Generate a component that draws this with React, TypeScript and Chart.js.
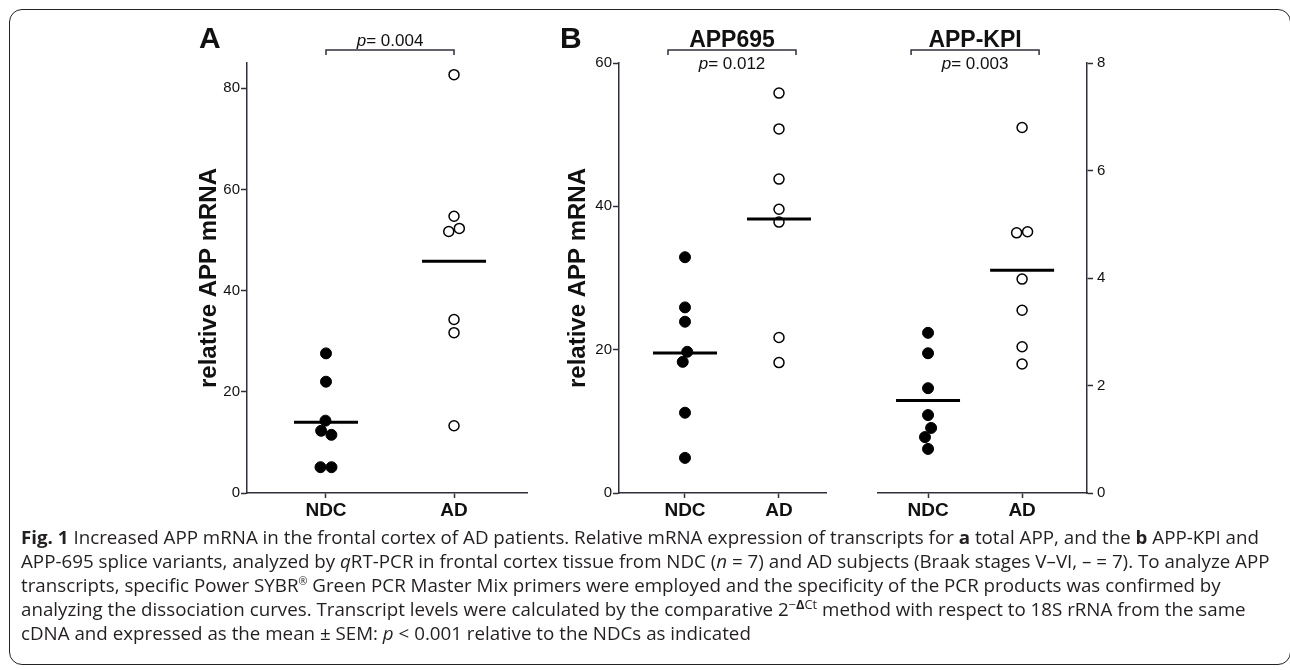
import React, { useEffect, useLayoutEffect, useRef } from 'react';
import { Chart, registerables } from 'chart.js';

Chart.register(...registerables);

// ---------- data ----------
const categories = ['NDC', 'AD'];

const totalNDC = [27.6, 22.0, 14.3, 12.3, 11.5, 5.1, 5.1];
const totalAD = [82.7, 54.7, 52.3, 51.7, 34.3, 31.7, 13.3];

const app695NDC = [32.9, 25.9, 23.9, 19.7, 18.3, 11.2, 4.9];
const app695AD = [55.8, 50.8, 43.8, 39.6, 37.8, 21.7, 18.2];

const kpiNDC = [2.98, 2.6, 1.95, 1.45, 1.21, 1.04, 0.82];
const kpiAD = [6.8, 4.86, 4.84, 3.98, 3.4, 2.72, 2.4];

const totalTicks = [0, 20, 40, 60, 80];
const app695Ticks = [0, 20, 40, 60];
const kpiTicks = [0, 2, 4, 6, 8];

const pTotal = '0.004';
const p695 = '0.012';
const pKpi = '0.003';

const yTitle = 'relative APP mRNA';

// ---------- styles ----------
const FONT = 'Arial, "Liberation Sans", Helvetica, sans-serif';
const AXIS = '#2f2f3c';
const INK = '#111111';

const mean = (a: number[]) => a.reduce((s, v) => s + v, 0) / a.length;

// beeswarm-style offsets (pixels) so that overlapping markers sit side by side
function swarm(pys: number[], d: number): number[] {
  const order = pys.map((_, i) => i).sort((a, b) => pys[a] - pys[b]);
  const xs = new Array(pys.length).fill(0);
  const placed: number[] = [];
  for (const i of order) {
    const iv: [number, number][] = [];
    for (const j of placed) {
      const dy = Math.abs(pys[i] - pys[j]);
      if (dy < d) {
        const hw = Math.sqrt(d * d - dy * dy);
        iv.push([xs[j] - hw, xs[j] + hw]);
      }
    }
    const cands = [0];
    iv.forEach(([a, b]) => cands.push(a, b));
    cands.sort((a, b) => Math.abs(a) - Math.abs(b) || a - b);
    const ok = cands.find((c) => iv.every(([a, b]) => c <= a + 1e-6 || c >= b - 1e-6));
    xs[i] = ok ?? 0;
    placed.push(i);
  }
  // centre each cluster of touching markers
  let start = 0;
  for (let k = 1; k <= order.length; k++) {
    if (k === order.length || pys[order[k]] - pys[order[k - 1]] >= d) {
      const idx = order.slice(start, k);
      if (idx.length > 1) {
        const m = idx.reduce((s, i) => s + xs[i], 0) / idx.length;
        idx.forEach((i) => (xs[i] -= m));
      }
      start = k;
    }
  }
  return xs;
}

type Panel = {
  ndc: number[];
  ad: number[];
  yMax: number;
  yTicks: number[];
  xMin: number;
  xMax: number;
  side: 'left' | 'right';
  showTitle: boolean;
  titlePad: number;
  yWidth: number;
  padLeft: number;
  padRight: number;
  left: number;
  width: number;
  letter?: string;
  letterDx?: number;
  heading?: string;
  pText: string;
  pAbove: boolean;
};

const panels: Panel[] = [
  {
    ndc: totalNDC, ad: totalAD, yMax: 85, yTicks: totalTicks,
    xMin: 0.383, xMax: 2.57, side: 'left', showTitle: true, titlePad: 44.6,
    yWidth: 97, padLeft: 0, padRight: 13, left: 150, width: 390,
    letter: 'A', letterDx: -48, pText: pTotal, pAbove: true,
  },
  {
    ndc: app695NDC, ad: app695AD, yMax: 60, yTicks: app695Ticks,
    xMin: 0.298, xMax: 2.5, side: 'left', showTitle: true, titlePad: 23.6,
    yWidth: 79, padLeft: 0, padRight: 14, left: 540, width: 300,
    letter: 'B', letterDx: -59, heading: 'APP695', pText: p695, pAbove: false,
  },
  {
    ndc: kpiNDC, ad: kpiAD, yMax: 8, yTicks: kpiTicks,
    xMin: 0.468, xMax: 2.69, side: 'right', showTitle: false, titlePad: 0,
    yWidth: 53, padLeft: 18, padRight: 0, left: 860, width: 280,
    heading: 'APP-KPI', pText: pKpi, pAbove: false,
  },
];

const CANVAS_H = 530;

function annotations(p: Panel) {
  return {
    id: 'annot',
    afterDraw(chart: any) {
      const { ctx, chartArea, scales } = chart;
      const x = scales.x;
      const x1 = x.getPixelForValue(1);
      const x2 = x.getPixelForValue(2);
      const mid = (x1 + x2) / 2;
      const by = chartArea.top - 13;
      ctx.save();
      ctx.strokeStyle = AXIS;
      ctx.lineWidth = 1.5;
      ctx.beginPath();
      ctx.moveTo(mid - 64, by + 5);
      ctx.lineTo(mid - 64, by);
      ctx.lineTo(mid + 64, by);
      ctx.lineTo(mid + 64, by + 5);
      ctx.stroke();

      ctx.fillStyle = INK;
      ctx.textBaseline = 'alphabetic';
      // p-value
      const pFont = `italic 17px ${FONT}`;
      const rFont = `17px ${FONT}`;
      ctx.font = pFont;
      const wP = ctx.measureText('p').width;
      ctx.font = rFont;
      const rest = '= ' + p.pText;
      const wR = ctx.measureText(rest).width;
      const startX = mid - (wP + wR) / 2;
      const py = p.pAbove ? by - 4 : by + 19;
      ctx.font = pFont;
      ctx.textAlign = 'left';
      ctx.fillText('p', startX, py);
      ctx.font = rFont;
      ctx.fillText(rest, startX + wP, py);

      if (p.heading) {
        ctx.font = `bold 23px ${FONT}`;
        ctx.textAlign = 'center';
        ctx.fillText(p.heading, mid, by - 3);
      }
      if (p.letter) {
        ctx.font = `bold 30px ${FONT}`;
        ctx.textAlign = 'left';
        ctx.fillText(p.letter, chartArea.left + (p.letterDx || 0), by - 2);
      }
      ctx.restore();
    },
  };
}

function PanelChart({ p }: { p: Panel }) {
  const ref = useRef<HTMLCanvasElement | null>(null);
  useEffect(() => {
    if (!ref.current) return;
    const tickFont = { family: FONT, size: 15 };
    const chart = new Chart(ref.current, {
      type: 'scatter',
      data: {
        datasets: [
          {
            label: 'mean',
            data: [
              { x: 1, y: mean(p.ndc) },
              { x: 2, y: mean(p.ad) },
            ],
            pointStyle: 'line',
            pointRadius: 32,
            pointHoverRadius: 32,
            pointBorderWidth: 3,
            borderColor: '#000',
            backgroundColor: '#000',
            clip: false as any,
          },
          {
            label: categories[0],
            data: p.ndc.map((v) => ({ x: 1, y: v })),
            pointRadius: 5.5,
            pointHoverRadius: 5.5,
            pointBorderWidth: 1,
            backgroundColor: '#000',
            borderColor: '#000',
            clip: false as any,
          },
          {
            label: categories[1],
            data: p.ad.map((v) => ({ x: 2, y: v })),
            pointRadius: 5,
            pointHoverRadius: 5,
            pointBorderWidth: 1.5,
            backgroundColor: '#fff',
            borderColor: '#000',
            clip: false as any,
          },
        ],
      },
      options: {
        animation: false,
        responsive: false,
        maintainAspectRatio: false,
        events: [],
        layout: {
          autoPadding: false,
          padding: { top: 63, bottom: 0, left: p.padLeft, right: p.padRight },
        },
        plugins: { legend: { display: false }, tooltip: { enabled: false } },
        scales: {
          x: {
            type: 'linear',
            position: 'bottom',
            min: p.xMin,
            max: p.xMax,
            afterBuildTicks: (s: any) => {
              s.ticks = categories.map((_, i) => ({ value: i + 1 }));
            },
            afterFit: (s: any) => {
              s.height = 37;
            },
            ticks: {
              autoSkip: false,
              maxRotation: 0,
              padding: 1,
              color: INK,
              font: { family: FONT, size: 19, weight: 'bold' },
              callback: (v: any) => categories[Math.round(Number(v)) - 1] ?? '',
            },
            grid: {
              display: true,
              drawOnChartArea: false,
              drawTicks: true,
              tickLength: 5,
              tickWidth: 1.5,
              tickColor: AXIS,
            },
            border: { display: true, color: AXIS, width: 1.5 },
          },
          y: {
            type: 'linear',
            position: p.side,
            min: 0,
            max: p.yMax,
            afterBuildTicks: (s: any) => {
              s.ticks = p.yTicks.map((v) => ({ value: v }));
            },
            afterFit: (s: any) => {
              s.width = p.yWidth;
            },
            ticks: {
              padding: p.side === 'left' ? 1 : 4,
              color: INK,
              font: tickFont,
              callback: (v: any) => String(v),
            },
            grid: {
              display: true,
              drawOnChartArea: false,
              drawTicks: true,
              tickLength: 6,
              tickWidth: 1.5,
              tickColor: AXIS,
            },
            border: { display: true, color: AXIS, width: 1.5 },
            title: {
              display: p.showTitle,
              text: yTitle,
              color: INK,
              font: { family: FONT, size: 24, weight: 'bold' },
              padding: { top: p.titlePad, bottom: 0 },
            },
          },
        },
      } as any,
      plugins: [annotations(p)],
    });

    // spread overlapping markers side by side using the chart's own scales
    const ys = chart.scales.y;
    const xs = chart.scales.x;
    const ppu = xs.getPixelForValue(2) - xs.getPixelForValue(1);
    [p.ndc, p.ad].forEach((vals, gi) => {
      const offs = swarm(vals.map((v) => ys.getPixelForValue(v)), 11);
      chart.data.datasets[gi + 1].data = vals.map((v, i) => ({ x: gi + 1 + offs[i] / ppu, y: v })) as any;
    });
    chart.update('none');

    return () => chart.destroy();
  }, [p]);
  return (
    <canvas
      ref={ref}
      width={p.width}
      height={CANVAS_H}
      style={{ position: 'absolute', left: p.left, top: 0, width: p.width, height: CANVAS_H, display: 'block' }}
    />
  );
}

const CAPTION_WIDTH = 1238;

const capStyle: React.CSSProperties = {
  whiteSpace: 'nowrap',
  lineHeight: '24px',
  height: 24,
};

function Caption() {
  const boxRef = useRef<HTMLDivElement | null>(null);
  const firstRef = useRef<HTMLSpanElement | null>(null);
  useLayoutEffect(() => {
    if (!boxRef.current || !firstRef.current) return;
    const w = firstRef.current.getBoundingClientRect().width;
    if (w > 0) boxRef.current.style.transform = `scaleX(${CAPTION_WIDTH / w})`;
  }, []);
  return (
    <div
      ref={boxRef}
      style={{
        position: 'absolute',
        left: 21,
        top: 525,
        transformOrigin: 'left top',
        fontFamily: '"Open Sans", "Noto Sans", sans-serif',
        fontSize: 17.5,
        color: '#231f20',
      }}
    >
      <div style={capStyle}>
        <span ref={firstRef}>
          <b>Fig. 1</b> Increased APP mRNA in the frontal cortex of AD patients. Relative mRNA expression of transcripts for <b>a</b> total APP, and the <b>b</b> APP-KPI and
        </span>
      </div>
      <div style={capStyle}>
        APP-695 splice variants, analyzed by <i>q</i>RT-PCR in frontal cortex tissue from NDC (<i>n</i> = 7) and AD subjects (Braak stages V–VI, – = 7). To analyze APP
      </div>
      <div style={capStyle}>
        transcripts, specific Power SYBR<sup style={{ fontSize: 10, lineHeight: 0 }}>®</sup> Green PCR Master Mix primers were employed and the specificity of the PCR products was confirmed by
      </div>
      <div style={capStyle}>
        analyzing the dissociation curves. Transcript levels were calculated by the comparative 2
        <sup style={{ fontSize: 12, lineHeight: 0 }}>
          −<b>Δ</b>Ct
        </sup>{' '}
        method with respect to 18S rRNA from the same
      </div>
      <div style={capStyle}>
        cDNA and expressed as the mean ± SEM: <i>p</i> &lt; 0.001 relative to the NDCs as indicated
      </div>
    </div>
  );
}

export default function App() {
  return (
    <div
      style={{
        position: 'fixed',
        left: 0,
        top: 0,
        width: 1290,
        height: 670,
        background: '#fff',
        overflow: 'hidden',
      }}
    >
      <div
        style={{
          position: 'absolute',
          left: 9,
          top: 9,
          width: 1282,
          height: 656,
          border: '1.5px solid #222',
          borderRadius: 13,
          boxSizing: 'border-box',
        }}
      />
      {panels.map((p, i) => (
        <PanelChart key={i} p={p} />
      ))}
      <Caption />
    </div>
  );
}
